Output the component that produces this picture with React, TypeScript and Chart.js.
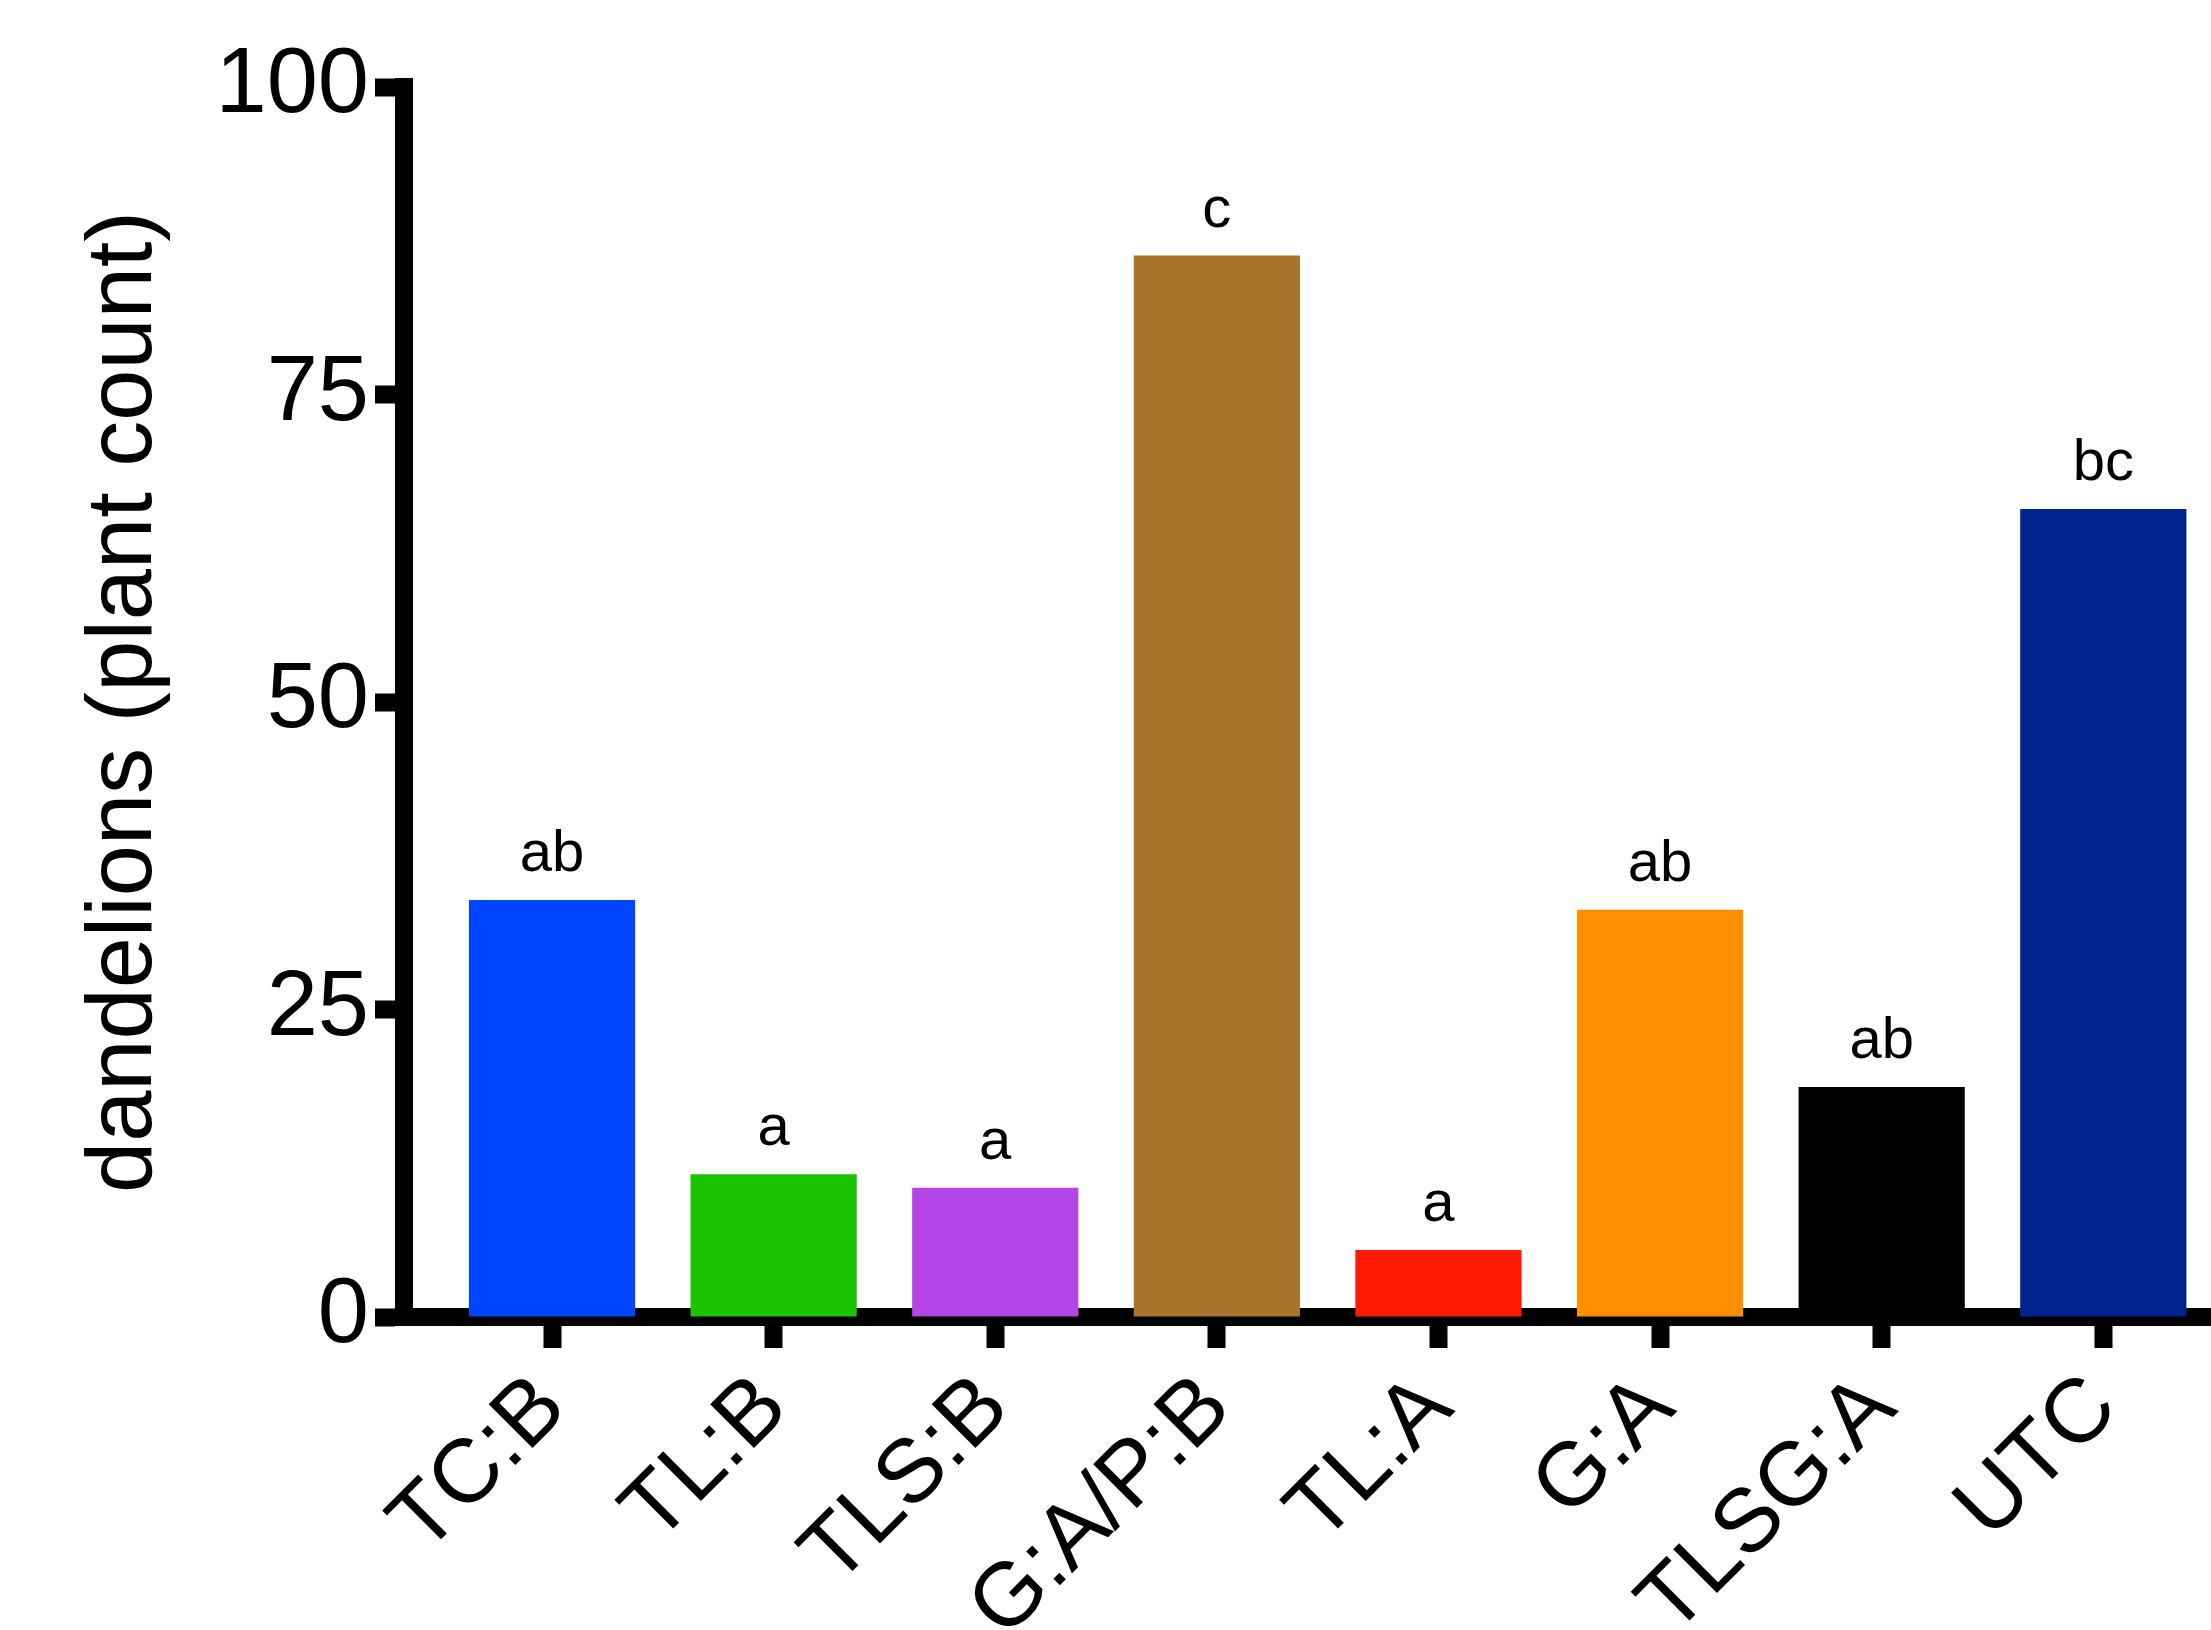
import React, { useEffect, useRef } from "react";
import { Chart, registerables } from "chart.js";

Chart.register(...registerables);

const categories = ["TC:B", "TL:B", "TLS:B", "G:A/P:B", "TL:A", "G:A", "TLSG:A", "UTC"];
const plantCounts = [33.9, 11.6, 10.5, 86.3, 5.45, 33.1, 18.7, 65.7];
const letterGroups = ["ab", "a", "a", "c", "a", "ab", "ab", "bc"];
const barColors = ["#0044FF", "#1AC400", "#B645E8", "#A6752B", "#FF1A06", "#FF8F00", "#000000", "#002390"];
const yTickValues = [0, 25, 50, 75, 100];

const FONT = "'Liberation Sans', Arial, Helvetica, sans-serif";

const lettersPlugin = {
  id: "letters",
  afterDatasetsDraw(chart: any) {
    const meta = chart.getDatasetMeta(0);
    const ctx = chart.ctx;
    ctx.save();
    ctx.fillStyle = "#000";
    ctx.font = `58px ${FONT}`;
    ctx.textAlign = "center";
    ctx.textBaseline = "alphabetic";
    meta.data.forEach((bar: any, i: number) => {
      ctx.fillText(letterGroups[i], bar.x, bar.y - 29);
    });
    ctx.restore();
  },
};

export default function App() {
  const ref = useRef<HTMLCanvasElement>(null);

  useEffect(() => {
    if (!ref.current) return;
    const chart = new Chart(ref.current, {
      type: "bar",
      data: {
        datasets: [
          {
            data: plantCounts.map((v, i) => ({ x: i, y: v })),
            backgroundColor: barColors,
            borderWidth: 0,
            barPercentage: 0.75,
            categoryPercentage: 1,
          },
        ],
      },
      options: {
        responsive: false,
        animation: false,
        devicePixelRatio: 1,
        layout: { padding: { top: 87, right: 0, left: 0, bottom: 0 } },
        plugins: {
          legend: { display: false },
          tooltip: { enabled: false },
        },
        scales: {
          x: {
            type: "linear",
            position: "bottom",
            offset: false,
            min: -0.668,
            max: 7.486,
            afterBuildTicks: (scale: any) => {
              scale.ticks = categories.map((_, i) => ({ value: i }));
            },
            afterFit: (scale: any) => {
              scale.height = 313;
            },
            ticks: {
              autoSkip: false,
              minRotation: 45,
              maxRotation: 45,
              padding: 7,
              labelOffset: 0,
              color: "#000",
              font: { family: FONT, size: 90 },
              callback: (value: any) => categories[Math.round(Number(value))] ?? "",
            },
            grid: {
              display: true,
              offset: false,
              drawOnChartArea: false,
              drawTicks: true,
              tickLength: 31,
              tickWidth: 18,
              tickColor: "#000",
            },
            border: { display: true, color: "#000", width: 18 },
          },
          y: {
            type: "linear",
            min: 0,
            max: 100,
            afterBuildTicks: (scale: any) => {
              scale.ticks = yTickValues.map((v) => ({ value: v }));
            },
            afterFit: (scale: any) => {
              scale.width = 404;
            },
            ticks: {
              padding: 6,
              color: "#000",
              font: { family: FONT, size: 92 },
            },
            grid: {
              display: true,
              drawOnChartArea: false,
              drawTicks: true,
              tickLength: 29,
              tickWidth: 18,
              tickColor: "#000",
            },
            border: { display: true, color: "#000", width: 18 },
            title: {
              display: true,
              text: "dandelions (plant count)",
              color: "#000",
              font: { family: FONT, size: 92 },
              padding: { top: 70, bottom: 0 },
            },
          },
        },
      },
      plugins: [lettersPlugin],
    } as any);
    return () => chart.destroy();
  }, []);

  return (
    <div style={{ position: "absolute", left: 0, top: 0, width: 2211, height: 1630, background: "#fff" }}>
      <canvas ref={ref} width={2211} height={1630} style={{ display: "block" }} />
    </div>
  );
}
